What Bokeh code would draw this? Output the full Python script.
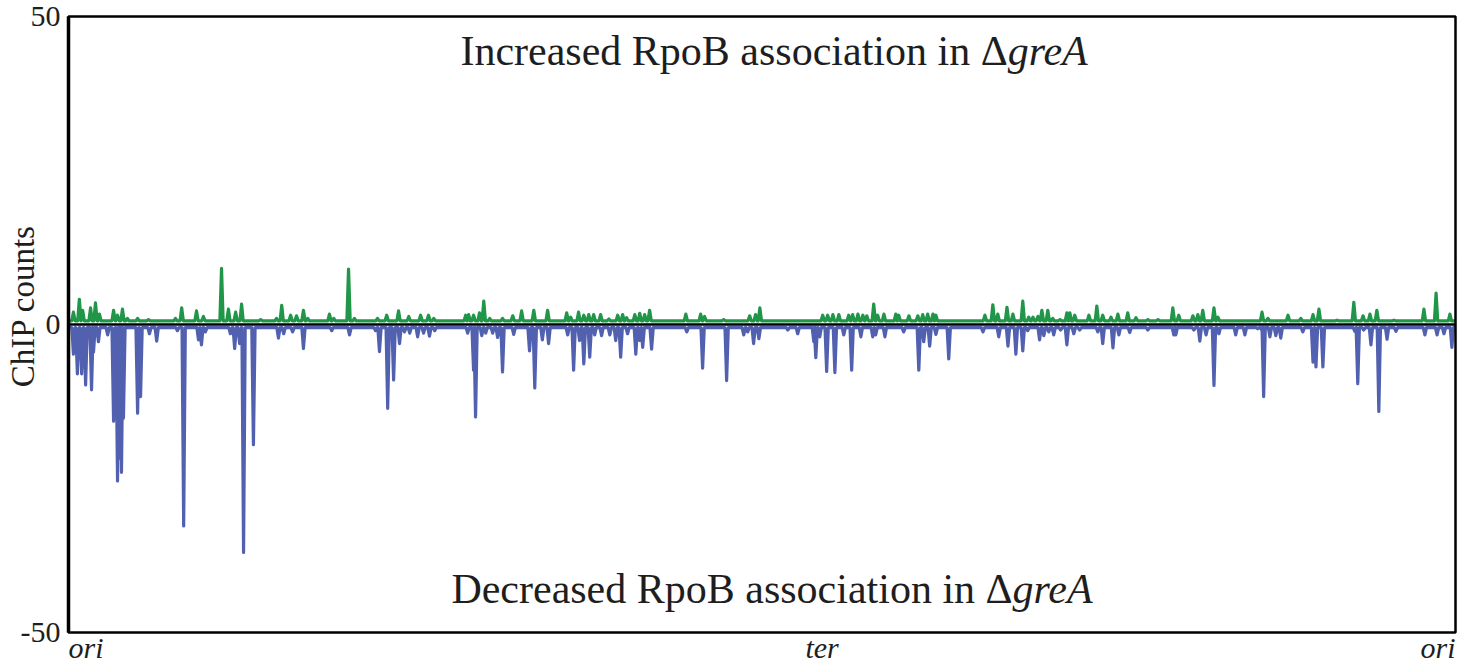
from math import pi

from bokeh.plotting import figure
from bokeh.models import Range1d
from bokeh.core.properties import value
from bokeh.embed import file_html
from bokeh.resources import INLINE

# Genome coordinate (kb) runs ori -> ter -> ori
GENOME_KB = 4215
TER_KB = 2290

# Baselines of the two traces (ChIP counts)
GREEN_BASE = 0.6
BLUE_BASE = -0.5

# Peaks with increased RpoB association in greA deletion (kb, counts)
up_pos = [15, 33, 43, 67, 82, 94, 137, 149, 164, 179, 210, 243, 325, 344, 389, 410,
          465, 486, 508, 526, 584, 632, 648, 675, 693, 714, 727, 793, 806, 851, 869,
          939, 967, 1003, 1034, 1070, 1094, 1110, 1207, 1216, 1231, 1249, 1262, 1280,
          1319, 1350, 1377, 1414, 1456, 1514, 1526, 1550, 1566, 1581, 1596, 1617,
          1642, 1669, 1684, 1696, 1721, 1736, 1751, 1766, 1876, 1921, 1933, 1991,
          2070, 2088, 2101, 2292, 2307, 2323, 2341, 2371, 2383, 2399, 2414, 2426,
          2447, 2459, 2478, 2514, 2523, 2554, 2581, 2596, 2611, 2627, 2636, 2785,
          2809, 2824, 2852, 2870, 2900, 2918, 2931, 2946, 2958, 2976, 2991, 3013,
          3034, 3043, 3058, 3101, 3125, 3143, 3168, 3189, 3219, 3244, 3280, 3311,
          3356, 3374, 3417, 3432, 3447, 3481, 3493, 3627, 3645, 3706, 3745, 3782,
          3800, 3855, 3906, 3934, 3955, 3976, 4028, 4119, 4156, 4198]
up_val = [2.0, 4.1, 2.3, 2.7, 3.5, 1.7, 2.3, 1.5, 2.5, 1.0, 1.0, 0.8, 1.0, 2.7, 2.2, 1.3,
          9.1, 2.5, 2.0, 3.3, 0.8, 1.0, 3.1, 1.5, 1.4, 2.3, 1.0, 1.7, 1.0, 9.0, 1.0,
          1.0, 1.5, 2.2, 1.3, 1.5, 1.5, 1.0, 1.5, 1.6, 1.5, 1.9, 3.8, 1.0,
          1.0, 1.4, 2.2, 2.3, 2.3, 1.9, 1.2, 2.0, 1.5, 1.6, 1.6, 1.6,
          0.9, 1.5, 1.6, 1.1, 1.6, 1.8, 1.6, 2.3, 1.7, 1.7, 1.3, 0.8,
          1.4, 1.6, 2.7, 1.5, 1.5, 1.6, 1.6, 1.5, 1.6, 1.7, 1.5, 1.4,
          3.3, 1.5, 1.7, 1.7, 1.5, 1.4, 1.4, 1.6, 1.7, 1.7, 1.5, 1.5,
          3.2, 1.7, 2.8, 1.7, 3.8, 1.2, 1.2, 1.3, 2.3, 2.3, 1.0, 0.8,
          1.9, 1.9, 1.5, 1.5, 3.0, 1.5, 1.2, 1.7, 1.9, 1.1, 0.8, 0.8,
          2.7, 1.5, 1.4, 1.6, 2.3, 2.7, 1.2, 2.0, 1.0, 1.5, 1.0, 1.6,
          2.5, 0.7, 3.6, 1.4, 1.7, 2.3, 0.7, 2.5, 5.1, 1.7]

# Peaks with decreased RpoB association in greA deletion (kb, counts)
down_pos = [15, 27, 40, 52, 70, 76, 91, 119, 137, 149, 155, 161, 167, 210, 219, 246,
            268, 331, 350, 395, 404, 416, 492, 505, 520, 532, 562, 638, 654, 681, 714,
            800, 854, 933, 945, 970, 988, 1006, 1021, 1037, 1061, 1079, 1097, 1113,
            1213, 1231, 1237, 1256, 1268, 1289, 1304, 1319, 1353, 1401, 1417, 1440,
            1459, 1517, 1535, 1553, 1566, 1584, 1599, 1620, 1645, 1663, 1678, 1699,
            1724, 1736, 1745, 1772, 1879, 1927, 2000, 2052, 2064, 2082, 2098, 2186,
            2216, 2265, 2271, 2283, 2304, 2329, 2356, 2380, 2408, 2444, 2453, 2481,
            2538, 2584, 2599, 2617, 2636, 2675, 2779, 2827, 2855, 2879, 2900, 2915,
            2951, 2964, 2979, 2994, 3015, 3034, 3055, 3073, 3128, 3143, 3174, 3192,
            3225, 3280, 3359, 3365, 3420, 3438, 3457, 3481, 3496, 3547, 3575, 3614,
            3627, 3632, 3651, 3669, 3684, 3751, 3782, 3791, 3812, 3909, 3918, 3936,
            3958, 3982, 4007, 4034, 4122, 4159, 4180, 4204]
down_val = [-4.8, -8.0, -8.0, -9.8, -10.6, -4.5, -2.8, -1.7, -15.7, -25.4, -21.7, -24.0,
            -15.2, -14.4, -11.7, -1.5, -2.7, -1.0, -32.7, -2.5, -3.3, -1.2, -1.5, -3.9,
            -3.1, -37.0, -19.5, -2.2, -1.5, -1.2, -3.9,
            -1.0, -1.7, -1.0, -4.4, -13.6, -9.0, -3.1, -1.2, -1.4, -2.0, -1.4, -1.9, -1.0,
            -1.4, -7.4, -15.0, -1.8, -1.4, -1.4, -2.1, -7.7, -1.6, -4.3, -10.3, -2.5,
            -3.1, -1.7, -7.4, -2.6, -6.4, -5.3, -1.7, -1.8, -1.7, -2.6, -5.3, -1.5,
            -4.8, -2.6, -3.7, -4.0, -1.2, -7.1, -9.1, -1.7, -1.2, -3.1, -2.3, -0.9,
            -1.5, -2.8, -5.4, -2.0, -7.6, -7.8, -1.7, -7.4, -2.0, -2.0, -1.7, -2.0,
            -1.2, -7.4, -2.8, -3.5, -1.6, -5.6, -1.2, -2.0, -3.5, -4.8, -4.3, -1.0,
            -2.5, -1.8, -1.2, -1.7, -0.9, -3.3, -1.5, -0.9, -1.2, -3.1, -3.8, -1.7,
            -1.3, -0.9, -1.7, -1.7, -0.9, -2.7, -1.7, -9.9, -1.5, -1.7, -1.7, -0.7,
            -1.0, -11.7, -2.0, -1.8, -2.2, -1.2, -6.1, -6.9, -6.9, -1.1, -9.6, -0.9,
            -3.3, -14.1, -2.4, -1.1, -1.7, -1.7, -1.5, -3.7]

y_ticks = [-50, 0, 50]
landmark_pos = [0, TER_KB, GENOME_KB]
landmark_text = ["ori", "ter", "ori"]

SERIF = "Liberation Serif"
INK = "#1e1e1e"
GREEN = "#1f9648"
BLUE = "#5260b0"

# Canvas layout (pixels) and the resulting data-per-pixel scales
W, H = 1469, 665
LEFT, RIGHT, TOP, BOTTOM = 68, 14, 16, 33
KX = GENOME_KB / (W - LEFT - RIGHT)
KY = 100 / (H - TOP - BOTTOM)


def trace(pos, val, base, half_width=5.0):
    """Polyline along a baseline with a narrow peak at each position."""
    xs, ys = [0], [base]
    for p, v in sorted(zip(pos, val)):
        xs += [max(p - half_width, 0), p, min(p + half_width, GENOME_KB)]
        ys += [base, v, base]
    xs.append(GENOME_KB)
    ys.append(base)
    return xs, ys


# The frame fills the canvas; the chart box and its labels are drawn in data space
p = figure(width=W, height=H, output_backend="svg", toolbar_location=None,
           x_range=Range1d(-LEFT * KX, GENOME_KB + RIGHT * KX),
           y_range=Range1d(-50 - BOTTOM * KY, 50 + TOP * KY),
           min_border=0, background_fill_color="white", border_fill_color="white")
p.grid.visible = False
p.axis.visible = False
p.outline_line_color = None

gx, gy = trace(up_pos, up_val, GREEN_BASE)
bx, by = trace(down_pos, down_val, BLUE_BASE)
p.line(bx, by, line_color=BLUE, line_width=3.2, line_join="round")
p.line(gx, gy, line_color=GREEN, line_width=3.2, line_join="round")

# Zero line across the box
p.segment(x0=[0], y0=[0], x1=[GENOME_KB], y1=[0], line_color="black", line_width=2.5)

# Chart box, with a heavier left edge
p.quad(left=[0], right=[GENOME_KB], bottom=[y_ticks[0]], top=[y_ticks[-1]],
       fill_color=None, line_color="black", line_width=2.5)
p.segment(x0=[0], y0=[y_ticks[0]], x1=[0], y1=[y_ticks[-1]],
          line_color="black", line_width=3.5)

# y tick labels and axis title
p.text(x=[-8 * KX] * len(y_ticks), y=y_ticks, text=[str(t) for t in y_ticks],
       text_font=value(SERIF), text_font_size="30px", text_color=INK,
       text_align="right", text_baseline="middle")
p.text(x=[-46 * KX], y=[3], text=["ChIP counts"], angle=pi / 2,
       text_font=value(SERIF), text_font_size="33px", text_color=INK,
       text_align="center", text_baseline="middle")

# Genome landmarks under the box
p.text(x=landmark_pos, y=[-52.4] * 3, text=landmark_text,
       text_font=value(SERIF), text_font_style="italic", text_font_size="30px",
       text_color=INK, text_align=["left", "center", "right"],
       text_baseline="middle")

# Captions inside the box: plain lead-in followed by the italic gene name
cap_join = [2854, 2869]
cap_y = [44.4, -43.0]
cap_lead = ["Increased RpoB association in \u0394", "Decreased RpoB association in \u0394"]
p.text(x=cap_join, y=cap_y, text=cap_lead, text_font=value(SERIF),
       text_font_size="42px", text_color=INK, text_align="right",
       text_baseline="middle")
p.text(x=cap_join, y=cap_y, text=["greA", "greA"], text_font=value(SERIF),
       text_font_style="italic", text_font_size="42px", text_color=INK,
       text_align="left", text_baseline="middle")

open("out.html", "w").write(file_html(p, INLINE))
